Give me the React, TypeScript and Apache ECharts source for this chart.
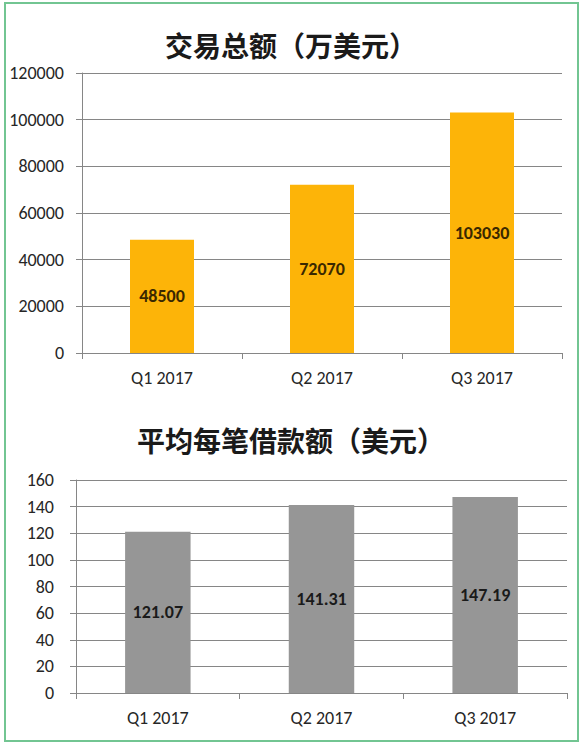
import { useEffect, useRef } from "react";
import * as echarts from "echarts";

const categories = ["Q1 2017", "Q2 2017", "Q3 2017"];
const totalVolume = [48500, 72070, 103030];
const avgLoan = [121.07, 141.31, 147.19];
const topTitle = "交易总额（万美元）";
const bottomTitle = "平均每笔借款额（美元）";

const latin = "Carlito, 'Noto Sans', 'Open Sans', sans-serif";
const cjk = "'Noto Sans CJK SC', 'Noto Sans', sans-serif";
const axisGray = "#868686";

const App = () => {
  const chartRef = useRef<HTMLDivElement | null>(null);

  useEffect(() => {
    if (!chartRef.current) {
      return;
    }
    const instance = echarts.init(chartRef.current, undefined, {
      renderer: "svg",
    });

    const yAxisBase = {
      type: "value" as const,
      min: 0,
      axisLine: { show: true, lineStyle: { color: axisGray, width: 1 } },
      axisTick: { show: true, inside: false, length: 6, lineStyle: { color: axisGray } },
      axisLabel: {
        color: "#262626",
        fontSize: 18,
        fontFamily: latin,
        formatter: (v: number) => String(v),
      },
      splitLine: { show: true, lineStyle: { color: axisGray, width: 1 } },
    };

    const xAxisBase = {
      type: "category" as const,
      data: categories,
      axisLine: { show: true, lineStyle: { color: axisGray, width: 1 } },
      axisTick: { show: true, length: 6, lineStyle: { color: axisGray } },
      axisLabel: { color: "#262626", fontSize: 18, fontFamily: latin, margin: 16 },
    };

    const option: echarts.EChartsOption = {
      animation: false,
      backgroundColor: "#ffffff",
      title: [
        {
          text: topTitle,
          left: "center",
          top: 26,
          textStyle: { fontFamily: cjk, fontSize: 28, fontWeight: "bold", color: "#1a1a1a" },
        },
        {
          text: bottomTitle,
          left: "center",
          top: 421,
          textStyle: { fontFamily: cjk, fontSize: 28, fontWeight: "bold", color: "#1a1a1a" },
        },
      ],
      graphic: [
        {
          type: "rect",
          shape: { x: 5, y: 3, width: 573, height: 738 },
          style: { fill: "none", stroke: "#72c592", lineWidth: 2 },
          silent: true,
        },
      ],
      grid: [
        { left: 82, right: 20, top: 73, height: 280 },
        { left: 76, right: 15, top: 480, height: 213 },
      ],
      xAxis: [
        { ...xAxisBase, gridIndex: 0 },
        { ...xAxisBase, gridIndex: 1 },
      ],
      yAxis: [
        {
          ...yAxisBase,
          gridIndex: 0,
          max: 120000,
          interval: 20000,
          axisLabel: { ...yAxisBase.axisLabel, margin: 18 },
        },
        {
          ...yAxisBase,
          gridIndex: 1,
          max: 160,
          interval: 20,
          axisLabel: { ...yAxisBase.axisLabel, margin: 22 },
        },
      ],
      series: [
        {
          type: "bar",
          xAxisIndex: 0,
          yAxisIndex: 0,
          data: totalVolume,
          barWidth: "40%",
          itemStyle: { color: "#fdb408" },
          label: {
            show: true,
            position: "inside",
            color: "#3a2800",
            fontSize: 18,
            fontWeight: "bold",
            fontFamily: latin,
          },
        },
        {
          type: "bar",
          xAxisIndex: 1,
          yAxisIndex: 1,
          data: avgLoan,
          barWidth: "40%",
          itemStyle: { color: "#969696" },
          label: {
            show: true,
            position: "inside",
            color: "#1a1a1a",
            fontSize: 18,
            fontWeight: "bold",
            fontFamily: latin,
            formatter: (p) => Number(p.value).toFixed(2),
          },
        },
      ],
    };

    instance.setOption(option);

    return () => {
      instance.dispose();
    };
  }, []);

  return (
    <div style={{ position: "fixed", left: 0, top: 0, width: 582, height: 747, background: "#fff" }}>
      <div ref={chartRef} style={{ width: 582, height: 747 }} />
    </div>
  );
};

export default App;
